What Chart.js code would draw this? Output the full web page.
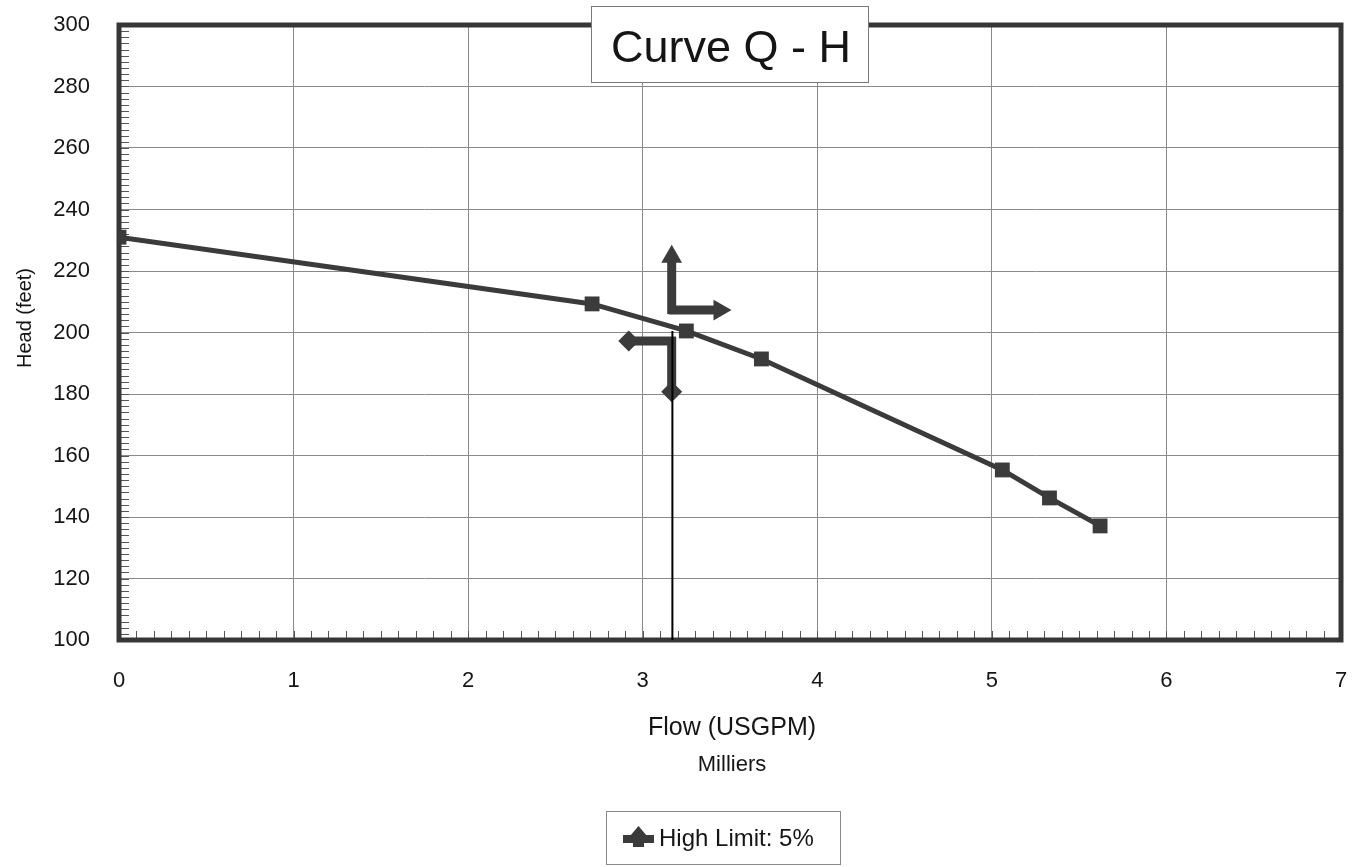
<!DOCTYPE html>
<html>
<head>
<meta charset="utf-8">
<script src="https://cdn.jsdelivr.net/npm/chart.js@4.4.1/dist/chart.umd.min.js"></script>
<style>
html, body { margin: 0; padding: 0; background: #fff; }
#wrap { width: 1363px; height: 867px; }
</style>
</head>
<body>
<div id="wrap"><canvas id="qhChart" width="1363" height="867"></canvas></div>
<script>
// Pump curve Q - H (flow in thousands of USGPM, head in feet)
const flow = [0, 2.71, 3.25, 3.68, 5.06, 5.33, 5.62];
const head = [231, 209.3, 200.5, 191.4, 155.3, 146.2, 137.1];

// duty point drop line
const dutyFlow = [3.17, 3.17];
const dutyHead = [100, 200.5];

// high limit arrows: [flow, head] start and end
const arrowUp    = [[3.166, 206.0], [3.166, 224.6]];
const arrowRight = [[3.150, 207.3], [3.440, 207.3]];
const arrowLeft  = [[3.190, 197.2], [2.920, 197.2]];
const arrowDown  = [[3.166, 198.5], [3.166, 180.7]];

const xTickLabels = ['0', '1', '2', '3', '4', '5', '6', '7'];
const yTickLabels = ['100', '120', '140', '160', '180', '200', '220', '240', '260', '280', '300'];

const FONT = '"Liberation Sans", Arial, Helvetica, sans-serif';
const INK = '#3b3b3b';

function pts(xs, ys) {
    return xs.map((v, i) => ({ x: v, y: ys[i] }));
}

function arrowSet(pair, style, rotation, radius) {
    return {
        data: pair.map(p => ({ x: p[0], y: p[1] })),
        showLine: true,
        borderColor: INK,
        backgroundColor: INK,
        borderWidth: 9,
        pointStyle: style,
        rotation: rotation,
        pointRadius: [0, radius],
        pointBorderWidth: 0,
        pointHoverRadius: 0
    };
}

const decorPlugin = {
    id: 'decor',
    beforeDatasetsDraw(chart) {
        const { ctx, chartArea: a, scales: { x, y } } = chart;
        ctx.save();
        // minor ticks inside the plot
        ctx.strokeStyle = '#555';
        ctx.lineWidth = 1;
        ctx.beginPath();
        for (let v = 100; v <= 300; v += 2) {
            const py = Math.round(y.getPixelForValue(v)) + 0.5;
            ctx.moveTo(a.left, py);
            ctx.lineTo(a.left + 10, py);
        }
        for (let i = 0; i <= 70; i++) {
            const px = Math.round(x.getPixelForValue(i / 10)) + 0.5;
            ctx.moveTo(px, a.bottom);
            ctx.lineTo(px, a.bottom - 9);
        }
        ctx.stroke();
        // plot border
        ctx.strokeStyle = '#363636';
        ctx.lineWidth = 5;
        ctx.strokeRect(a.left, a.top, a.right - a.left, a.bottom - a.top);
        ctx.restore();
    },
    afterDraw(chart) {
        const { ctx } = chart;
        ctx.save();

        // title box
        ctx.fillStyle = '#fff';
        ctx.fillRect(591, 6, 277, 76);
        ctx.strokeStyle = '#7a7a7a';
        ctx.lineWidth = 1;
        ctx.strokeRect(591.5, 6.5, 277, 76);
        ctx.fillStyle = '#151515';
        ctx.font = '45px ' + FONT;
        ctx.textAlign = 'center';
        ctx.textBaseline = 'alphabetic';
        ctx.fillText('Curve Q - H', 731, 62);

        // axis titles
        ctx.font = '25px ' + FONT;
        ctx.fillText('Flow (USGPM)', 732, 735);
        ctx.font = '22px ' + FONT;
        ctx.fillText('Milliers', 732, 771);

        ctx.save();
        ctx.translate(31, 318);
        ctx.rotate(-Math.PI / 2);
        ctx.font = '20px ' + FONT;
        ctx.fillText('Head (feet)', 0, 0);
        ctx.restore();

        // legend
        ctx.fillStyle = '#fff';
        ctx.fillRect(606, 811, 234, 53);
        ctx.strokeStyle = '#8a8a8a';
        ctx.strokeRect(606.5, 811.5, 234, 53);
        ctx.fillStyle = INK;
        ctx.fillRect(623, 835, 31, 8);
        ctx.beginPath();
        ctx.moveTo(630, 836);
        ctx.lineTo(638.5, 826);
        ctx.lineTo(647, 836);
        ctx.closePath();
        ctx.fill();
        ctx.fillRect(633, 842, 11, 5);
        ctx.fillStyle = '#151515';
        ctx.font = '24px ' + FONT;
        ctx.textAlign = 'left';
        ctx.fillText('High Limit: 5%', 659, 846);

        ctx.restore();
    }
};

new Chart(document.getElementById('qhChart'), {
    type: 'scatter',
    data: {
        datasets: [{
            label: 'Q - H',
            data: pts(flow, head),
            showLine: true,
            borderColor: INK,
            backgroundColor: INK,
            borderWidth: 5,
            pointStyle: 'rect',
            pointRadius: 10.5,
            pointBorderWidth: 0,
            pointHoverRadius: 10.5
        }, {
            label: 'Duty',
            data: pts(dutyFlow, dutyHead),
            showLine: true,
            borderColor: '#000',
            borderWidth: 2,
            pointRadius: 0
        },
            arrowSet(arrowUp, 'triangle', 0, 12),
            arrowSet(arrowRight, 'triangle', 90, 12),
            arrowSet(arrowLeft, 'rectRot', 0, 10.5),
            arrowSet(arrowDown, 'rectRot', 0, 10.5)
        ]
    },
    options: {
        responsive: false,
        animation: false,
        layout: {
            padding: { top: 25, right: 22, left: 0, bottom: 0 }
        },
        plugins: {
            legend: { display: false },
            tooltip: { enabled: false }
        },
        scales: {
            x: {
                type: 'linear',
                min: 0,
                max: 7,
                afterFit: (scale) => { scale.height = 227; },
                // invisible tick marks push the labels down without adding side padding
                grid: { color: '#8a8a8a', lineWidth: 1, drawTicks: true, tickLength: 27, tickColor: 'rgba(0,0,0,0)' },
                border: { display: false },
                ticks: {
                    stepSize: 1,
                    padding: 1,
                    color: '#151515',
                    font: { family: FONT, size: 22 },
                    callback: (v) => xTickLabels[v]
                }
            },
            y: {
                type: 'linear',
                min: 100,
                max: 300,
                afterFit: (scale) => { scale.width = 119; },
                grid: { color: '#8a8a8a', lineWidth: 1, drawTicks: true, tickLength: 29, tickColor: 'rgba(0,0,0,0)' },
                border: { display: false },
                ticks: {
                    stepSize: 20,
                    padding: 0,
                    color: '#151515',
                    font: { family: FONT, size: 22 },
                    callback: (v) => yTickLabels[(v - 100) / 20]
                }
            }
        }
    },
    plugins: [decorPlugin]
});
</script>
</body>
</html>
